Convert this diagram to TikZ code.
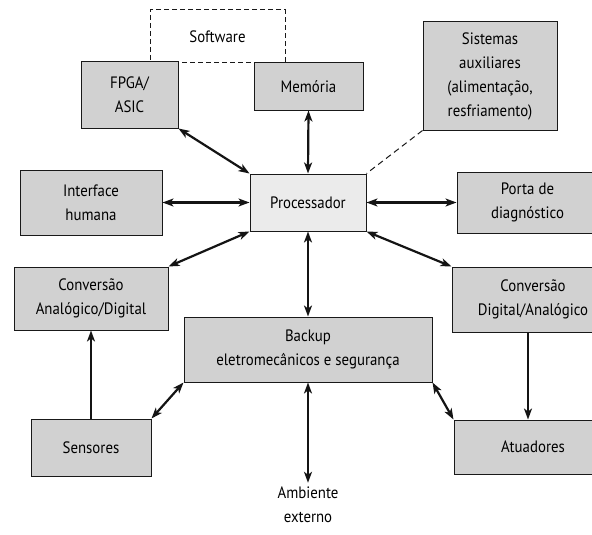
\documentclass[tikz,border=0pt]{standalone}
\usepackage{fontspec}
\setmainfont[FakeStretch=0.9]{PT Sans}
\usetikzlibrary{arrows.meta}
\begin{document}
\begin{tikzpicture}[x=1pt,y=-1pt,
  font=\fontsize{16.5}{24}\selectfont,
  blk/.style={draw=black!90,line width=1pt,fill=black!18,align=center,inner sep=0pt},
  cpu/.style={blk,fill=black!8},
  soft/.style={draw=black!90,line width=1pt,dashed,dash pattern=on 5pt off 3pt,align=center,inner sep=0pt},
  link/.style={line width=2.2pt,black!92,{Stealth[length=11pt,width=8pt,inset=3pt]}-{Stealth[length=11pt,width=8pt,inset=3pt]}},
  feed/.style={line width=2.2pt,black!92,-{Stealth[length=11pt,width=8pt,inset=3pt]}},
  aux/.style={line width=1pt,black!90,dashed,dash pattern=on 6pt off 4pt}]
\useasboundingbox (0,0) rectangle (592,535);
\clip (0,0) rectangle (592,535);
\fill[white] (0,0) rectangle (592,535);

% blocks
\node[soft,minimum width=135pt,minimum height=53pt] (sw) at (217.5,36.5) {Software};
\node[blk,minimum width=97pt,minimum height=66pt] (fpga) at (129.5,95) {FPGA/\\ASIC};
\node[blk,minimum width=109pt,minimum height=47pt] (mem) at (308.5,86.5) {Memória};
\node[blk,minimum width=134pt,minimum height=108pt] (aux) at (490,76) {Sistemas\\auxiliares\\(alimentação,\\resfriamento)};
\node[cpu,minimum width=116pt,minimum height=57pt] (cpu) at (308,202.5) {Processador};
\node[blk,minimum width=142pt,minimum height=65pt] (hmi) at (91,202.5) {Interface\\humana};
\node[blk,minimum width=141pt,minimum height=61pt] (diag) at (527.5,202.5) {Porta de\\diagnóstico};
\node[blk,minimum width=154pt,minimum height=63pt] (adc) at (91,298.5) {Conversão\\Analógico/Digital};
\node[blk,minimum width=162pt,minimum height=65pt] (dac) at (533,299.5) {Conversão\\Digital/Analógico};
\node[blk,minimum width=248pt,minimum height=65pt] (bak) at (308,349.5) {Backup\\eletromecânicos e segurança};
\node[blk,minimum width=120pt,minimum height=57pt] (sen) at (91,447.5) {Sensores};
\node[blk,minimum width=158pt,minimum height=54pt] (act) at (533,447) {Atuadores};
\node[align=center,inner sep=0pt,minimum height=44pt] (env) at (308,505) {Ambiente\\externo};

% connections
\draw[link] (fpga.south east) -- (cpu.north west);
\draw[link] (mem.south) -- (cpu.north);
\draw[aux] (aux.south west) -- (cpu.north east);
\draw[link] (hmi.east) -- (cpu.west);
\draw[link] (cpu.east) -- (diag.west);
\draw[link] (cpu.south west) -- (adc.north east);
\draw[link] (cpu.south east) -- (dac.north west);
\draw[link] (cpu.south) -- (bak.north);
\draw[feed] (sen.north) -- (adc.south);
\draw[feed] ([xshift=-5pt]dac.south) -- ([xshift=-5pt]act.north);
\draw[link] (sen.north east) -- (bak.south west);
\draw[link] (bak.south east) -- (act.north west);
\draw[link] (bak.south) -- (env.north);
\end{tikzpicture}
\end{document}
